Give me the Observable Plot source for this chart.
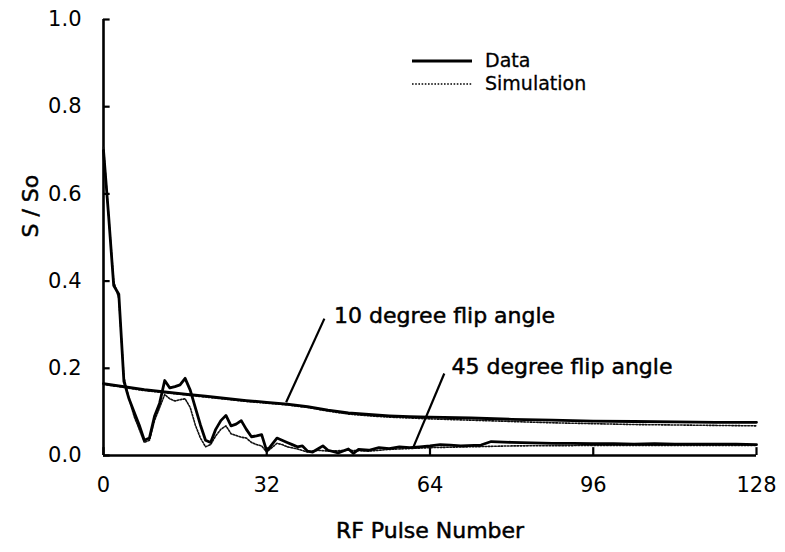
<!DOCTYPE html>
<html>
<head>
<meta charset="utf-8">
<script src="https://cdn.jsdelivr.net/npm/d3@7"></script>
<script src="https://cdn.jsdelivr.net/npm/@observablehq/plot@0.6"></script>
<style>
  html, body { margin: 0; padding: 0; background: #fff; }
  #wrap { position: relative; width: 785px; height: 552px; }
  #legend { position: absolute; left: 0; top: 0; pointer-events: none; }
  svg text { paint-order: stroke; }
</style>
</head>
<body>
<div id="wrap"></div>
<script>
// ---- data ----
const xTicks = [0, 32, 64, 96, 128];
const yTicks = [0, 0.2, 0.4, 0.6, 0.8, 1.0];

// 10 degree flip angle
const x10Data = [0, 4, 8, 12, 16, 20, 24, 28, 32, 36, 40, 44, 48, 52, 56, 60, 64, 72, 80, 88, 96, 104, 112, 120, 128];
const y10Data = [0.165, 0.158, 0.151, 0.146, 0.141, 0.136, 0.131, 0.126, 0.122, 0.118, 0.112, 0.104, 0.098, 0.094, 0.091, 0.089, 0.088, 0.086, 0.083, 0.081, 0.079, 0.078, 0.077, 0.076, 0.076];
const x10Sim = [0, 4, 8, 12, 16, 20, 24, 28, 32, 36, 40, 44, 48, 52, 56, 60, 64, 72, 80, 88, 96, 104, 112, 120, 128];
const y10Sim = [0.163, 0.156, 0.149, 0.144, 0.139, 0.134, 0.129, 0.124, 0.120, 0.116, 0.110, 0.102, 0.095, 0.091, 0.088, 0.086, 0.084, 0.081, 0.078, 0.075, 0.073, 0.071, 0.070, 0.069, 0.068];

// 45 degree flip angle
const x45Data = [0, 1, 2, 3, 4, 5, 6, 7, 8, 9, 10, 11, 12, 13, 14, 15, 16, 17, 18, 19, 20, 21, 22, 23, 24, 25, 26, 27, 28, 29, 30, 31, 32, 33, 34, 35, 36, 37, 38, 39, 40, 41, 42, 43, 44, 46, 48, 49, 50, 52, 54, 56, 58, 60, 62, 64, 66, 68, 70, 74, 76, 80, 84, 88, 92, 96, 100, 104, 108, 112, 116, 120, 124, 128];
const y45Data = [0.70, 0.55, 0.39, 0.37, 0.17, 0.13, 0.10, 0.07, 0.035, 0.04, 0.09, 0.12, 0.172, 0.155, 0.158, 0.162, 0.177, 0.15, 0.11, 0.07, 0.035, 0.03, 0.06, 0.08, 0.092, 0.068, 0.072, 0.08, 0.06, 0.043, 0.045, 0.048, 0.01, 0.025, 0.04, 0.035, 0.03, 0.025, 0.02, 0.022, 0.01, 0.008, 0.015, 0.022, 0.012, 0.006, 0.015, 0.005, 0.014, 0.012, 0.018, 0.016, 0.02, 0.018, 0.02, 0.022, 0.025, 0.024, 0.022, 0.024, 0.032, 0.03, 0.029, 0.028, 0.028, 0.027, 0.027, 0.026, 0.027, 0.026, 0.026, 0.026, 0.026, 0.025];
const x45Sim = [0, 1, 2, 3, 4, 5, 6, 7, 8, 9, 10, 11, 12, 13, 14, 15, 16, 17, 18, 19, 20, 21, 22, 23, 24, 25, 26, 27, 28, 29, 30, 31, 32, 33, 34, 35, 36, 38, 40, 42, 44, 48, 52, 56, 60, 64, 72, 80, 96, 112, 128];
const y45Sim = [0.707, 0.55, 0.40, 0.36, 0.18, 0.13, 0.09, 0.06, 0.03, 0.035, 0.08, 0.11, 0.14, 0.13, 0.125, 0.128, 0.13, 0.11, 0.07, 0.04, 0.02, 0.025, 0.045, 0.06, 0.068, 0.05, 0.046, 0.042, 0.04, 0.03, 0.025, 0.022, 0.008, 0.018, 0.028, 0.025, 0.02, 0.015, 0.008, 0.012, 0.01, 0.012, 0.01, 0.014, 0.016, 0.018, 0.02, 0.022, 0.023, 0.023, 0.023];

// annotations
const annotLabels = ["10 degree flip angle", "45 degree flip angle"];
const annotTextX = [45.2, 68.2];
const annotTextY = [0.321, 0.204];
const leaderX1 = [43.3, 66.8];
const leaderY1 = [0.314, 0.188];
const leaderX2 = [35.8, 60.8];
const leaderY2 = [0.122, 0.021];

const seriesNames = ["Data", "Simulation"];

// ---- build tables ----
const toRows = (xs, ys) => xs.map((x, i) => ({x, y: ys[i]}));
const d10 = toRows(x10Data, y10Data);
const s10 = toRows(x10Sim, y10Sim);
const d45 = toRows(x45Data, y45Data);
const s45 = toRows(x45Sim, y45Sim);
const annots = annotLabels.map((t, i) => ({t, x: annotTextX[i], y: annotTextY[i], x1: leaderX1[i], y1: leaderY1[i], x2: leaderX2[i], y2: leaderY2[i]}));

const FONT = "DejaVu Sans";
const simStyle = {x: "x", y: "y", stroke: "#111", strokeWidth: 1.6, strokeDasharray: "1.6,1.6"};
const dataStyle = {x: "x", y: "y", stroke: "#000", strokeWidth: 2.8, strokeLinejoin: "round"};

const chart = Plot.plot({
  width: 785,
  height: 552,
  marginLeft: 103,
  marginRight: 29,
  marginTop: 19,
  marginBottom: 97,
  x: {domain: [0, 128]},
  y: {domain: [0, 1]},
  style: {fontFamily: FONT, fontSize: "21px", color: "#000", background: "#fff", overflow: "visible"},
  marks: [
    Plot.axisX(xTicks, {tickSize: 0, tickPadding: 22, label: null, fontSize: 21, stroke: "#000", strokeWidth: 0.6}),
    Plot.axisY(yTicks, {tickSize: 0, tickPadding: 22, label: null, fontSize: 21, tickFormat: d => d.toFixed(1), stroke: "#000", strokeWidth: 0.6}),
    Plot.ruleX(xTicks, {y1: 0, y2: 0.018, stroke: "#000", strokeWidth: 2.2}),
    Plot.ruleY(yTicks, {x1: 0, x2: 1.3, stroke: "#000", strokeWidth: 2.2}),
    Plot.ruleX([0], {stroke: "#000", strokeWidth: 2.6}),
    Plot.ruleY([0], {stroke: "#000", strokeWidth: 2.6}),
    Plot.line(s10, simStyle),
    Plot.line(s45, simStyle),
    Plot.line(d10, dataStyle),
    Plot.line(d45, dataStyle),
    Plot.link(annots, {x1: "x1", y1: "y1", x2: "x2", y2: "y2", stroke: "#000", strokeWidth: 2.2}),
    Plot.text(annots, {x: "x", y: "y", text: "t", textAnchor: "start", fontSize: 22, fill: "#000", stroke: "#000", strokeWidth: 0.5}),
    Plot.text(["RF Pulse Number"], {frameAnchor: "bottom", dy: 82, fontSize: 22, fill: "#000", stroke: "#000", strokeWidth: 0.5}),
    Plot.text(["S / So"], {frameAnchor: "left", dx: -73, rotate: -90, fontSize: 22, fill: "#000", stroke: "#000", strokeWidth: 0.5})
  ]
});

const wrap = document.getElementById("wrap");
wrap.appendChild(chart);

// ---- legend overlay ----
const legend = d3.select(wrap).append("svg")
  .attr("id", "legend").attr("width", 785).attr("height", 552);
const legendItems = [
  {name: seriesNames[0], y: 61, dash: null, w: 2.8},
  {name: seriesNames[1], y: 84, dash: "1.6,1.6", w: 1.6}
];
legendItems.forEach(it => {
  legend.append("line").attr("x1", 412).attr("x2", 472).attr("y1", it.y).attr("y2", it.y)
    .attr("stroke", "#000").attr("stroke-width", it.w).attr("stroke-dasharray", it.dash);
  legend.append("text").attr("x", 485).attr("y", it.y - 1).attr("dy", "0.35em")
    .attr("font-family", FONT).attr("font-size", 19).attr("fill", "#000")
    .attr("stroke", "#000").attr("stroke-width", 0.3)
    .text(it.name);
});
</script>
</body>
</html>
